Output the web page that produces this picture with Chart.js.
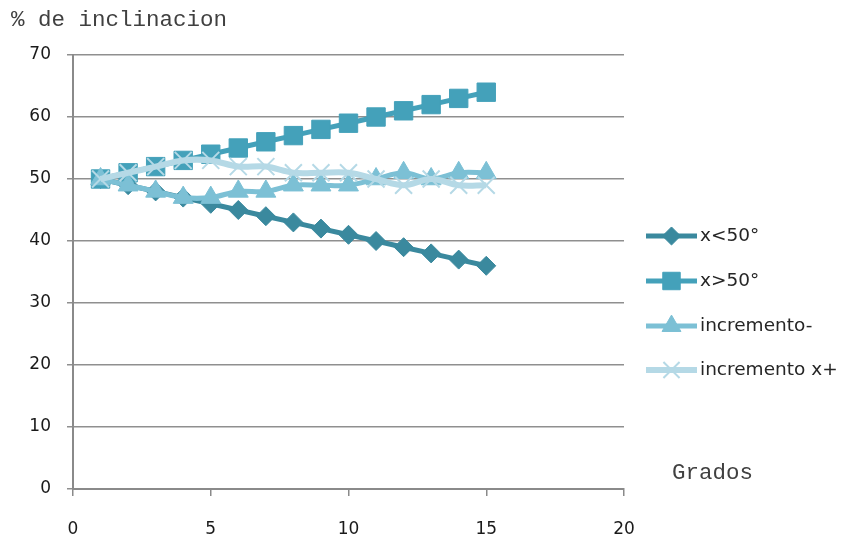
<!DOCTYPE html>
<html>
<head>
<meta charset="utf-8">
<script src="https://cdn.jsdelivr.net/npm/chart.js@4"></script>
<style>
html,body{margin:0;padding:0;background:#fff;}
#wrap{width:848px;height:539px;}
</style>
</head>
<body>
<div id="wrap"><canvas id="c" width="848" height="539"></canvas></div>
<script>
const grados = [1,2,3,4,5,6,7,8,9,10,11,12,13,14,15];
const menor50 = [50,49,48,47,46,45,44,43,42,41,40,39,38,37,36];
const mayor50 = [50,51,52,53,54,55,56,57,58,59,60,61,62,63,64];
const incrementoMenos = [50,49,48,47,47,48,48,49,49,49,50,51,50,51,51];
const incrementoMas = [50,51,52,53,53,52,52,51,51,51,50,49,50,49,49];
const seriesNames = ['x<50°','x>50°','incremento-','incremento x+'];
const xTicks = [0,5,10,15,20];
const yTicks = [0,10,20,30,40,50,60,70];

const toPts = arr => grados.map((g,i)=>({x:g,y:arr[i]}));

const colors = ['#3a899e','#44a1ba','#7cc0d5','#b5d9e6'];
const styles = [
  {pointStyle:'rectRot', radius:9.5, tension:0, lw:5},
  {pointStyle:'rect', radius:13, tension:0, lw:5},
  {pointStyle:'triangle', radius:11.5, tension:0.35, lw:5},
  {pointStyle:'crossRot', radius:12, tension:0.35, lw:6}
];
const seriesData = [menor50, mayor50, incrementoMenos, incrementoMas];

const datasets = seriesData.map((d,i)=>({
  label: seriesNames[i],
  data: toPts(d),
  borderColor: colors[i],
  backgroundColor: colors[i],
  pointBackgroundColor: colors[i],
  pointBorderColor: colors[i],
  pointBorderWidth: i===3 ? 2 : 1,
  borderWidth: styles[i].lw,
  pointStyle: styles[i].pointStyle,
  pointRadius: styles[i].radius,
  pointHoverRadius: styles[i].radius,
  tension: styles[i].tension,
  order: 3 - i,
  showLine: true,
  fill: false
}));

const extras = {
  id:'extras',
  afterDraw(chart){
    const ctx = chart.ctx;
    ctx.save();
    ctx.fillStyle = '#404040';
    ctx.font = '22.5px "Liberation Mono", "DejaVu Sans Mono", monospace';
    ctx.textBaseline = 'middle';
    ctx.textAlign = 'left';
    ctx.fillText('% de inclinacion', 11, 20);
    ctx.fillText('Grados', 672, 473);
    // legend
    const rows = [236, 281, 326, 370];
    const x0 = 646, x1 = 697;
    chart.data.datasets.forEach((ds,i)=>{
      const y = rows[i];
      ctx.strokeStyle = ds.borderColor;
      ctx.lineWidth = ds.borderWidth;
      ctx.beginPath(); ctx.moveTo(x0,y); ctx.lineTo(x1,y); ctx.stroke();
      ctx.fillStyle = ds.backgroundColor;
      ctx.strokeStyle = ds.borderColor;
      ctx.lineWidth = ds.pointBorderWidth;
      Chart.helpers.drawPoint(ctx, {pointStyle: ds.pointStyle, radius: ds.pointRadius*0.95, borderWidth: ds.pointBorderWidth}, (x0+x1)/2, y);
      ctx.fillStyle = '#262626';
      ctx.font = '18.5px "DejaVu Sans", sans-serif';
      ctx.textAlign = 'left';
      ctx.textBaseline = 'middle';
      ctx.fillText(ds.label, 700, y);
    });
    ctx.restore();
  }
};

new Chart(document.getElementById('c'), {
  type: 'scatter',
  data: { datasets },
  options: {
    responsive: false,
    animation: false,
    layout: { padding: { top: 55, right: 224, left: 0, bottom: 0 } },
    plugins: { legend: { display: false }, tooltip: { enabled: false } },
    scales: {
      x: {
        type: 'linear', min: 0, max: 20,
        afterBuildTicks: s => { s.ticks = xTicks.map(v=>({value:v})); },
        afterFit: s => { s.height = 539 - 489; },
        grid: { drawOnChartArea: false, drawTicks: true, tickLength: 7, color: '#8a8a8a', lineWidth: 1.5 },
        border: { color: '#8a8a8a', width: 2 },
        ticks: { color: '#1a1a1a', font: { family: '"DejaVu Sans", sans-serif', size: 17 }, padding: 23 }
      },
      y: {
        type: 'linear', min: 0, max: 70,
        afterBuildTicks: s => { s.ticks = yTicks.map(v=>({value:v})); },
        afterFit: s => { s.width = 73; },
        grid: { drawOnChartArea: true, drawTicks: true, tickLength: 6, color: '#8f8f8f', lineWidth: 1.5 },
        border: { color: '#8a8a8a', width: 2 },
        ticks: { color: '#1a1a1a', font: { family: '"DejaVu Sans", sans-serif', size: 17 }, padding: 16 }
      }
    }
  },
  plugins: [extras]
});
</script>
</body>
</html>
